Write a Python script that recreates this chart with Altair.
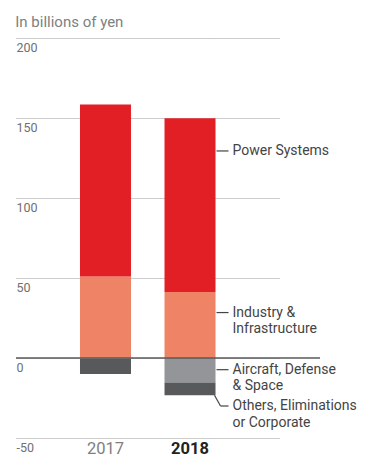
import altair as alt
import pandas as pd

# Segment results by fiscal year (billions of yen)
years = ["2017", "2018"]
segments = ["Industry & Infrastructure", "Power Systems", "Aircraft, Defense & Space",
            "Others, Eliminations or Corporate"]
values_2017 = [51.0, 107.5, -0.5, -9.5]
values_2018 = [41.3, 108.5, -15.3, -8.0]
colors = ["#EE8366", "#E31F26", "#939598", "#58595B"]

# Callout labels beside the 2018 column and where their leaders point (value axis)
label_texts = ["Power Systems", "Industry &\nInfrastructure", "Aircraft, Defense\n& Space",
               "Others, Eliminations\nor Corporate"]
label_at = [129.4, 28.4, -7.3, -30.0]

rows = []
for yr, vals in zip(years, [values_2017, values_2018]):
    for i, (seg, v) in enumerate(zip(segments, vals)):
        rows.append({"year": yr, "segment": seg, "value": v, "order": i})
bars_df = pd.DataFrame(rows)

labels_df = pd.DataFrame({"year": "2018", "text": label_texts, "at": label_at})
straight_df = labels_df.iloc[:3]
others_bottom = sum(values_2018[2:])
bend_df = pd.DataFrame({"year": ["2018"], "y1": [others_bottom], "y2": [label_at[3]]})
zero_df = pd.DataFrame({"v": [0]})

FONT = "Roboto"

x_scale = alt.Scale(domain=years, range=[0, 263.5], paddingInner=0.3964, paddingOuter=0.757)
y_scale = alt.Scale(domain=[-50, 200], nice=False)

x_axis = alt.Axis(
    title=None, domain=False, ticks=False, labelAngle=0, labelFont=FONT,
    labelFontSize=16.5, labelPadding=2, labelBaseline="top",
    labelFontWeight={"condition": {"test": "datum.value == '2018'", "value": "bold"}, "value": "normal"},
    labelColor={"condition": {"test": "datum.value == '2018'", "value": "#222222"}, "value": "#808080"},
)
y_axis = alt.Axis(
    title=None, domain=False, ticks=False, tickSize=0, values=[-50, 0, 50, 100, 150, 200],
    labelExpr="'' + datum.value",
    labelAlign="left", labelBaseline="top", labelPadding=0, labelOffset=3,
    labelFont=FONT, labelFontSize=12.5, labelColor="#707070",
    gridColor="#9a9a9a", gridDash=[1, 1], gridWidth=1,
)

bars = alt.Chart(bars_df).mark_bar(size=51).encode(
    x=alt.X("year:N", scale=x_scale, axis=x_axis),
    y=alt.Y("value:Q", scale=y_scale, axis=y_axis, stack="zero"),
    color=alt.Color("segment:N", scale=alt.Scale(domain=segments, range=colors), legend=None),
    order=alt.Order("order:Q"),
)

zero_line = alt.Chart(zero_df).mark_rule(color="#5a5a5a", strokeWidth=1.5).encode(y="v:Q")

leaders = alt.Chart(straight_df).mark_rule(color="#444444", strokeWidth=1.2, xOffset=1, x2Offset=13).encode(
    x=alt.X("year:N", bandPosition=1),
    x2=alt.X2("year:N", bandPosition=1),
    y="at:Q",
)

bend_diag = alt.Chart(bend_df).mark_rule(color="#444444", strokeWidth=1.2, xOffset=-1, x2Offset=5).encode(
    x=alt.X("year:N", bandPosition=1),
    x2=alt.X2("year:N", bandPosition=1),
    y="y1:Q",
    y2="y2:Q",
)
bend_flat = alt.Chart(bend_df).mark_rule(color="#444444", strokeWidth=1.2, xOffset=5, x2Offset=13).encode(
    x=alt.X("year:N", bandPosition=1),
    x2=alt.X2("year:N", bandPosition=1),
    y="y2:Q",
)

texts = alt.Chart(labels_df).mark_text(
    align="left", baseline="top", dx=17, dy=-7, font=FONT, fontSize=14,
    color="#444444", lineBreak="\n", lineHeight=16.5,
).encode(
    x=alt.X("year:N", bandPosition=1),
    y="at:Q",
    text="text:N",
)

chart = alt.layer(bars, zero_line, leaders, bend_diag, bend_flat, texts).properties(
    width=304, height=400,
    title=alt.TitleParams("In billions of yen", anchor="start", font=FONT, fontSize=15,
                          fontWeight="normal", color="#808080", offset=8),
    autosize=alt.AutoSizeParams(type="none"),
    padding={"left": 16, "top": 38, "right": 47, "bottom": 18},
).configure_view(stroke=None)

chart.save("out.html", embed_options={"renderer": "svg", "actions": False})
